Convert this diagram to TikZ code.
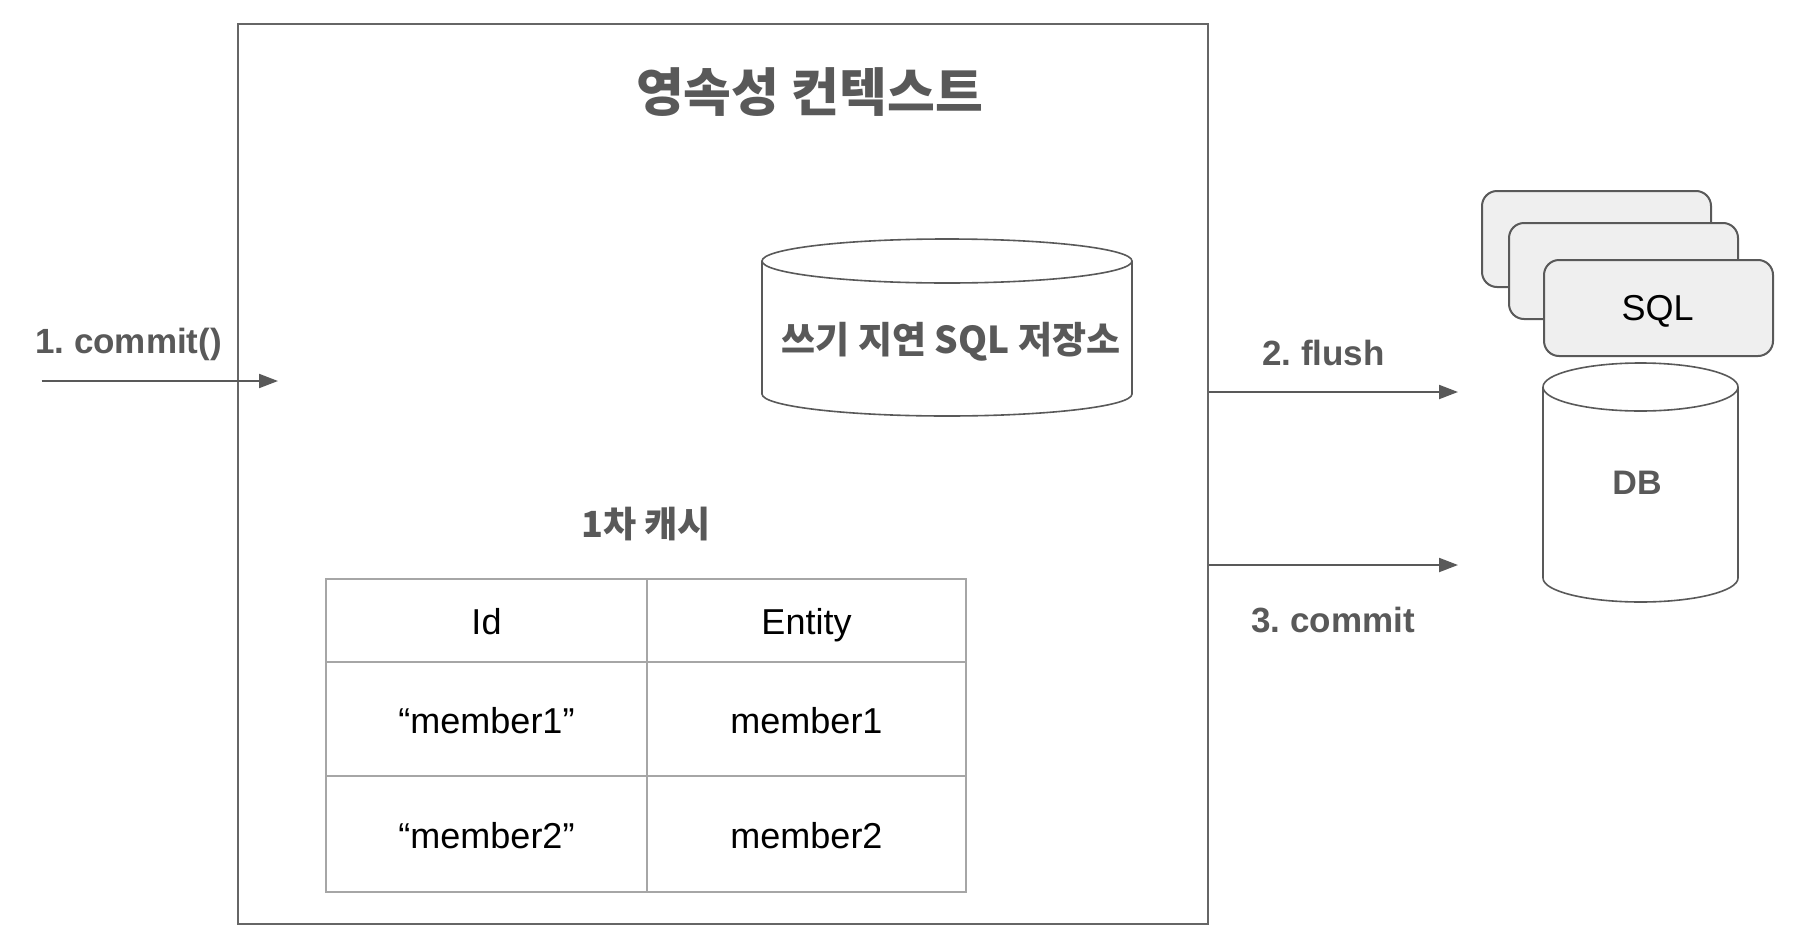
\documentclass[tikz,border=0pt]{standalone}
\usepackage{fontspec}
\setmainfont{Liberation Sans}
\newfontfamily\kr{Noto Sans CJK KR}
\usetikzlibrary{arrows.meta}
\definecolor{ink}{HTML}{595959}
\definecolor{boxline}{HTML}{666666}
\definecolor{tabline}{HTML}{A6A6A6}
\definecolor{sqlfill}{HTML}{EFEFEF}
\tikzset{
  flow/.style={draw=ink, line width=2bp, -{Triangle[length=19bp,width=14bp]}},
  lbl/.style={text=ink, font=\fontsize{35bp}{40bp}\selectfont\bfseries, inner sep=0pt, anchor=base},
  krlbl/.style={text=ink, inner sep=0pt, anchor=base},
  cell/.style={text=black, font=\fontsize{36bp}{40bp}\selectfont, inner sep=0pt, anchor=base},
  sqlcard/.style={draw=ink, fill=sqlfill, line width=2bp, rounded corners=15bp},
  cyl/.style={draw=ink, line width=1.6bp, fill=white},
}
\begin{document}
\begin{tikzpicture}[x=1bp,y=-1bp]
\useasboundingbox[fill=white] (0,0) rectangle (1805,942);
% persistence context box
\node[draw=boxline, line width=2bp, minimum width=970bp, minimum height=900bp, inner sep=0pt, anchor=north west] (pc) at (237,23) {};
\node[krlbl, font=\kr\fontsize{52bp}{58bp}\selectfont\bfseries] (title) at (809.5,111) {영속성 컨텍스트};
% write-behind SQL store cylinder
\draw[cyl] (762,261) -- (762,394) arc[start angle=180, end angle=360, x radius=185bp, y radius=22bp] -- (1132,261);
\draw[cyl] (947,261) ellipse [x radius=185bp, y radius=22bp];
\node[krlbl, font=\kr\fontsize{37bp}{42bp}\selectfont\bfseries] (store) at (951,353) {쓰기 지연 SQL 저장소};
% first-level cache
\node[krlbl, font=\kr\fontsize{36bp}{42bp}\selectfont\bfseries] (cache) at (646,537) {1차 캐시};
\draw[draw=tabline, line width=2bp] (326,579) rectangle (966,892);
\draw[draw=tabline, line width=2bp] (647,579) -- (647,892);
\draw[draw=tabline, line width=2bp] (326,662) -- (966,662);
\draw[draw=tabline, line width=2bp] (326,776) -- (966,776);
\node[cell] (hid) at (486.5,634) {Id};
\node[cell] (hent) at (806.5,634) {Entity};
\node[cell] (k1) at (486.5,733) {“member1”};
\node[cell] (v1) at (806.5,733) {member1};
\node[cell] (k2) at (486.5,848) {“member2”};
\node[cell] (v2) at (806.5,848) {member2};
% SQL cards
\draw[sqlcard] (1482,191) rectangle (1711,287);
\draw[sqlcard] (1509,223) rectangle (1738,319);
\node[sqlcard, minimum width=229bp, minimum height=96bp, inner sep=0pt, anchor=north west] (sqlf) at (1543,259) {};
\node[cell] (sql) at (1657.5,320) {SQL};
% DB cylinder
\draw[cyl] (1543,387) -- (1543,578) arc[start angle=180, end angle=360, x radius=97.5bp, y radius=24bp] -- (1738,387);
\draw[cyl] (1640.5,387) ellipse [x radius=97.5bp, y radius=24bp];
\node[lbl, font=\fontsize{34bp}{40bp}\selectfont\bfseries] (db) at (1637,494) {DB};
% arrows
\coordinate (a1s) at (41.7,381);
\coordinate (a1e) at (278,381);
\coordinate (a2s) at (pc.east |- 0,392);
\coordinate (a2e) at (1458,392);
\coordinate (a3s) at (pc.east |- 0,565);
\coordinate (a3e) at (1458,565);
\draw[flow] (a1s) -- (a1e);
\draw[flow] (a2s) -- (a2e);
\draw[flow] (a3s) -- (a3e);
\node[lbl] (l1) at (128.5,353) {1.\kern0.278em commit()};
\node[lbl] (l2) at (1323.5,365) {2.\kern0.278em flush};
\node[lbl] (l3) at (1333,632) {3.\kern0.278em commit};
\end{tikzpicture}
\end{document}
